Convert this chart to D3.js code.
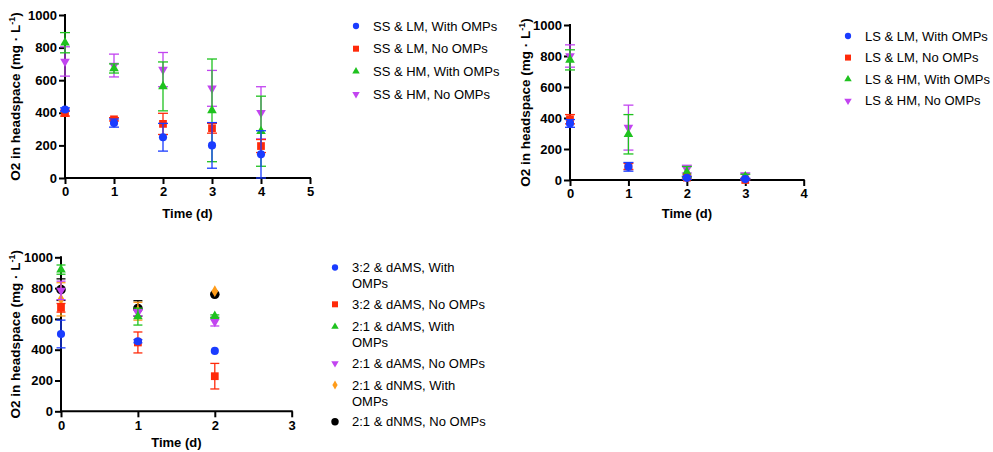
<!DOCTYPE html>
<html>
<head>
<meta charset="utf-8">
<script src="https://cdn.jsdelivr.net/npm/d3@7"></script>
<style>
  html, body { margin: 0; padding: 0; background: #fff; }
  svg { display: block; font-family: Arial, "Liberation Sans", sans-serif; }
  .tick text { font-weight: bold; font-size: 13px; fill: #000; }
  .axis-title { font-weight: bold; font-size: 13px; fill: #000; }
  .ytitle { font-weight: bold; font-size: 13.5px; fill: #000; }
  .legend text { font-size: 13px; fill: #000; }
</style>
</head>
<body>
<svg id="chart" width="993" height="452"></svg>
<script>
// ---- Panel A: SS conditions ----
const daysA = [0, 1, 2, 3, 4];
const ssLmWith    = [420, 337, 250, 200, 145];
const ssLmWithErr = [10, 25, 85, 140, 145];
const ssLmNo      = [398, 360, 332, 305, 196];
const ssLmNoErr   = [18, 10, 65, 30, 40];
const ssHmWith    = [830, 672, 562, 415, 287];
const ssHmWithErr = [62, 28, 150, 315, 215];
const ssHmNo      = [715, 690, 665, 550, 400];
const ssHmNoErr   = [90, 70, 105, 110, 160];

// ---- Panel B: LS conditions ----
const daysB = [0, 1, 2, 3];
const lsLmWith    = [365, 85, 14, 6];
const lsLmWithErr = [25, 28, 10, 5];
const lsLmNo      = [392, 88, 15, 0];
const lsLmNoErr   = [30, 20, 8, 5];
const lsHmWith    = [775, 295, 52, 22];
const lsHmWithErr = [65, 127, 35, 15];
const lsHmNo      = [800, 338, 70, 28];
const lsHmNoErr   = [72, 145, 25, 18];

// ---- Panel C: ratio / medium conditions ----
const daysC = [0, 1, 2];
const r32AmsWith    = [502, 455, 392];
const r32AmsWithErr = [90, 10, 0];
const r32AmsNo      = [672, 447, 228];
const r32AmsNoErr   = [28, 68, 83];
const r21AmsWith    = [920, 615, 618];
const r21AmsWithErr = [30, 55, 8];
const r21AmsNo      = [785, 640, 582];
const r21AmsNoErr   = [60, 20, 28];
const r21NmsWith    = [727, 650, 780];
const r21NmsWithErr = [108, 58, 0];
const r21NmsNo      = [790, 668, 760];
const r21NmsNoErr   = [70, 50, 0];

const yTicks = [0, 200, 400, 600, 800, 1000];

const BLUE = "#1a3cff", RED = "#ff2a0a", GREEN = "#1fc21f",
      PURPLE = "#c244f0", ORANGE = "#ff9c1a", BLACK = "#000000";

const shapes = {
  circle:   { type: d3.symbolCircle,   size: 52, rot: 0 },
  bigcircle:{ type: d3.symbolCircle,   size: 72, rot: 0 },
  square:   { type: d3.symbolSquare,   size: 60, rot: 0 },
  up:       { type: d3.symbolTriangle, size: 40, rot: 0 },
  down:     { type: d3.symbolTriangle, size: 40, rot: 180 },
  diamond:  { type: d3.symbolDiamond,  size: 40, rot: 0 }
};

const panels = [
  {
    x0: 65, x1: 310, y0: 178, y1: 15, xMax: 5, capW: 10,
    titleX: 15, xTitleY: 218, legendX: 356, legendY: 26, legendStep: 22.7,
    days: daysA,
    series: [
      { label: ["SS & LM, With OMPs"], color: BLUE,   shape: "circle", v: ssLmWith, e: ssLmWithErr },
      { label: ["SS & LM, No OMPs"],   color: RED,    shape: "square", v: ssLmNo,   e: ssLmNoErr },
      { label: ["SS & HM, With OMPs"], color: GREEN,  shape: "up",     v: ssHmWith, e: ssHmWithErr },
      { label: ["SS & HM, No OMPs"],   color: PURPLE, shape: "down",   v: ssHmNo,   e: ssHmNoErr }
    ]
  },
  {
    x0: 570, x1: 803.7, y0: 180, y1: 25, xMax: 4, capW: 10,
    titleX: 525, xTitleY: 218, legendX: 848, legendY: 36, legendStep: 21.6,
    days: daysB,
    series: [
      { label: ["LS & LM, With OMPs"], color: BLUE,   shape: "circle", v: lsLmWith, e: lsLmWithErr },
      { label: ["LS & LM, No OMPs"],   color: RED,    shape: "square", v: lsLmNo,   e: lsLmNoErr },
      { label: ["LS & HM, With OMPs"], color: GREEN,  shape: "up",     v: lsHmWith, e: lsHmWithErr },
      { label: ["LS & HM, No OMPs"],   color: PURPLE, shape: "down",   v: lsHmNo,   e: lsHmNoErr }
    ]
  },
  {
    x0: 61, x1: 291.7, y0: 411.3, y1: 257.3, xMax: 3, capW: 9,
    titleX: 15, xTitleY: 447, legendX: 335, legendY: 267.5, legendStep: null,
    rowYs: [267.5, 304.3, 326.7, 363.3, 385, 421.7],
    days: daysC,
    series: [
      { label: ["3:2 & dAMS, With", "OMPs"], color: BLUE,   shape: "circle",    v: r32AmsWith, e: r32AmsWithErr },
      { label: ["3:2 & dAMS, No OMPs"],      color: RED,    shape: "square",    v: r32AmsNo,   e: r32AmsNoErr },
      { label: ["2:1 & dAMS, With", "OMPs"], color: GREEN,  shape: "up",        v: r21AmsWith, e: r21AmsWithErr },
      { label: ["2:1 & dAMS, No OMPs"],      color: PURPLE, shape: "down",      v: r21AmsNo,   e: r21AmsNoErr },
      { label: ["2:1 & dNMS, With", "OMPs"], color: ORANGE, shape: "diamond",   v: r21NmsWith, e: r21NmsWithErr },
      { label: ["2:1 & dNMS, No OMPs"],      color: BLACK,  shape: "bigcircle", v: r21NmsNo,   e: r21NmsNoErr }
    ]
  }
];

const svg = d3.select("#chart");
svg.append("rect").attr("width", 993).attr("height", 452).attr("fill", "#fff");

function symbolPath(name, scale) {
  const s = shapes[name];
  return d3.symbol().type(s.type).size(s.size * (scale || 1))();
}

panels.forEach(p => {
  const g = svg.append("g");
  const x = d3.scaleLinear().domain([0, p.xMax]).range([p.x0, p.x1]);
  const y = d3.scaleLinear().domain([0, 1000]).range([p.y0, p.y1]);

  // axes
  const xAxis = d3.axisBottom(x).tickValues(d3.range(0, p.xMax + 1)).tickFormat(d3.format("d"))
    .tickSizeInner(6).tickSizeOuter(0).tickPadding(3);
  const yAxis = d3.axisLeft(y).tickValues(yTicks).tickFormat(d3.format("d"))
    .tickSizeInner(6).tickSizeOuter(0).tickPadding(2);

  const gx = g.append("g").attr("transform", `translate(0,${p.y0})`).call(xAxis);
  const gy = g.append("g").attr("transform", `translate(${p.x0},0)`).call(yAxis);
  [gx, gy].forEach(a => {
    a.select(".domain").attr("stroke", "#000").attr("stroke-width", 2);
    a.selectAll(".tick line").attr("stroke", "#000").attr("stroke-width", 2);
    a.attr("font-family", null).attr("font-size", null);
  });
  gx.select(".domain").attr("d", `M${p.x0 - 1},0H${p.x1 + 1}`);
  gy.select(".domain").attr("d", `M0,${p.y0 + 1}V${p.y1 - 1}`);

  // axis titles
  g.append("text").attr("class", "axis-title")
    .attr("x", (p.x0 + p.x1) / 2).attr("y", p.xTitleY)
    .attr("text-anchor", "middle").text("Time (d)");

  const yt = g.append("text").attr("class", "ytitle")
    .attr("transform", `translate(${p.titleX + 5},${(p.y0 + p.y1) / 2}) rotate(-90)`)
    .attr("text-anchor", "middle");
  yt.append("tspan").text("O2 in headspace (mg · L");
  yt.append("tspan").attr("font-size", "9px").attr("dy", -5).text("-1");
  yt.append("tspan").attr("dy", 5).text(")");

  // data: later series drawn first so the first series sits on top
  const order = p.series.slice().reverse();
  order.forEach(s => {
    const sg = g.append("g");
    p.days.forEach((d, i) => {
      const cx = x(d), v = s.v[i], e = s.e[i];
      if (e > 0) {
        const yTop = y(v + e), yBot = y(Math.max(0, v - e));
        sg.append("line").attr("x1", cx).attr("x2", cx).attr("y1", yTop).attr("y2", yBot)
          .attr("stroke", s.color).attr("stroke-width", 1.3);
        [yTop, yBot].forEach(yy => {
          sg.append("line").attr("x1", cx - p.capW / 2).attr("x2", cx + p.capW / 2)
            .attr("y1", yy).attr("y2", yy)
            .attr("stroke", s.color).attr("stroke-width", 1.3);
        });
      }
      sg.append("path").attr("d", symbolPath(s.shape))
        .attr("transform", `translate(${cx},${y(v)}) rotate(${shapes[s.shape].rot})`)
        .attr("fill", s.color);
    });
  });

  // legend
  const lg = g.append("g").attr("class", "legend");
  p.series.forEach((s, i) => {
    const ry = p.rowYs ? p.rowYs[i] : p.legendY + i * p.legendStep;
    lg.append("path").attr("d", symbolPath(s.shape, 0.6))
      .attr("transform", `translate(${p.legendX},${ry}) rotate(${shapes[s.shape].rot})`)
      .attr("fill", s.color);
    s.label.forEach((line, j) => {
      lg.append("text").attr("x", p.legendX + 17).attr("y", ry + j * 16)
        .attr("dy", "0.35em").text(line);
    });
  });
});
</script>
</body>
</html>
